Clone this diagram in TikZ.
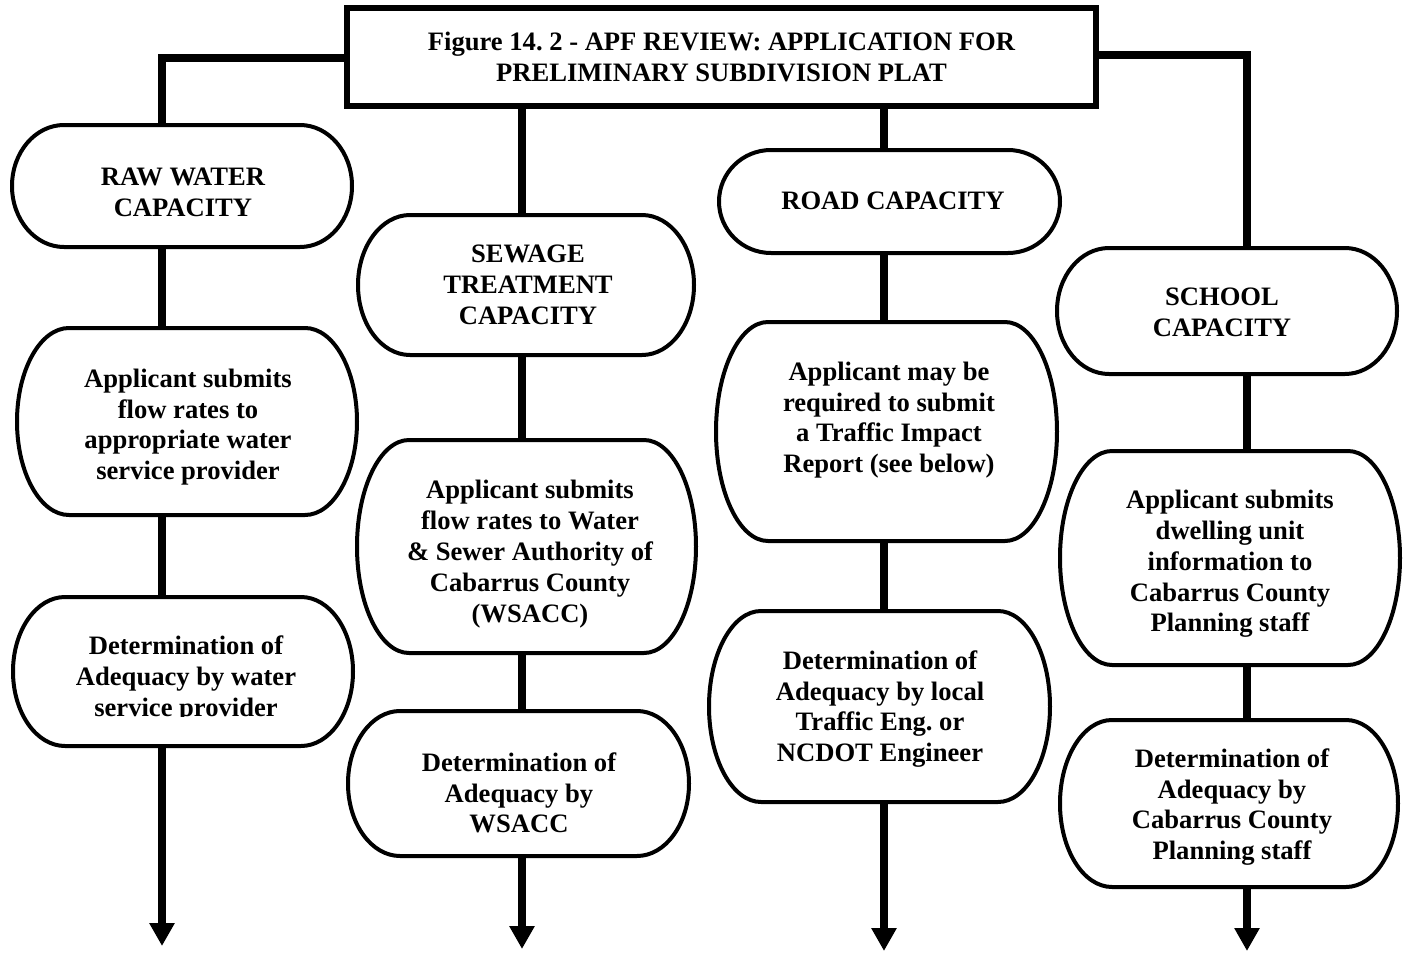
\documentclass[tikz,border=0pt]{standalone}
\usepackage{fontspec}
\setmainfont{Liberation Serif}
\usetikzlibrary{arrows.meta}
\frenchspacing
\tikzset{
  conn/.style={line width=3.8pt},
  arr/.style={line width=3.8pt, -{Triangle[length=11.5pt,width=12pt]}},
  boxline/.style={line width=2pt, line join=round},
  shapebox/.style={rectangle, inner sep=0pt, outer sep=0pt, draw=none},
  boxtext/.style={font=\fontsize{13.3}{15.4}\selectfont\bfseries, align=center, inner sep=0pt},
  titlebox/.style={draw, line width=2.6pt, rectangle, minimum width=374.5pt, minimum height=49pt,
    inner sep=0pt, font=\fontsize{13.3}{15.2}\selectfont\bfseries, align=center}
}
\newcommand\mycapsule[5]{%
  \pgfmathsetmacro\cw{(#4-#2)*0.5}%
  \pgfmathsetmacro\ch{(#5-#3)*0.5}%
  \pgfmathsetmacro\cx{(#2+#4)/2}%
  \pgfmathsetmacro\cy{(#3+#5)/2}%
  \pgfmathsetmacro\ry{(#5-#3)*0.5}%
  \pgfmathsetmacro\ryp{(#5-#3)*0.25}%
  \node[shapebox, minimum width=\cw pt, minimum height=\ch pt] (#1) at (\cx,\cy) {};
  \draw[boxline] (#2+52,#3) -- (#4-52,#3)
    arc[start angle=90,end angle=0,x radius=26pt,y radius=\ryp pt]
    arc[start angle=0,end angle=-90,x radius=26pt,y radius=\ryp pt]
    -- (#2+52,#5)
    arc[start angle=270,end angle=180,x radius=26pt,y radius=\ryp pt]
    arc[start angle=180,end angle=90,x radius=26pt,y radius=\ryp pt]
    -- cycle;
}
\begin{document}
\begin{tikzpicture}[x=0.5pt,y=-0.5pt]
\useasboundingbox (0,0) rectangle (1410,953);

% title
\node[titlebox] (title) at (721.5,57) {Figure 14. 2 - APF REVIEW: APPLICATION FOR\\PRELIMINARY SUBDIVISION PLAT};

% column x positions
\coordinate (c1) at (162,0);
\coordinate (c2) at (522,0);
\coordinate (c3) at (884,0);
\coordinate (c4) at (1247,0);

% boxes
\mycapsule{raw}{12}{125}{352}{247}
\mycapsule{appA}{17}{328}{357}{515}
\mycapsule{detA}{13}{597}{353}{746}
\mycapsule{sew}{358}{215}{694}{355}
\mycapsule{appB}{357}{440}{696}{653}
\mycapsule{detB}{348}{711}{689}{856}
\mycapsule{road}{719}{150}{1060}{253}
\mycapsule{appC}{716}{322}{1057}{541}
\mycapsule{detC}{709}{611}{1050}{802}
\mycapsule{sch}{1057}{248}{1397}{374}
\mycapsule{appD}{1060}{451}{1400}{665}
\mycapsule{detD}{1060}{720}{1398}{887}

% texts
\node[boxtext] (raw-t) at (183,192) {RAW WATER\\CAPACITY};
\node[boxtext] (appA-t) at (188,427) {Applicant submits\\flow rates to\\appropriate water\\service provider};
\begin{scope}
\clip (0,0) rectangle (1410,716);
\node[boxtext] (detA-t) at (186,679) {Determination of\\Adequacy by water\\service provider};
\end{scope}
\node[boxtext] (sew-t) at (528,285) {SEWAGE\\TREATMENT\\CAPACITY};
\node[boxtext] (appB-t) at (530,554) {Applicant submits\\flow rates to Water\\\& Sewer Authority of\\Cabarrus County\\(WSACC)};
\node[boxtext] (detB-t) at (519,793) {Determination of\\Adequacy by\\WSACC};
\node[boxtext] (road-t) at (893,201) {ROAD CAPACITY};
\node[boxtext] (appC-t) at (889,420) {Applicant may be\\required to submit\\a Traffic Impact\\Report (see below)};
\node[boxtext] (detC-t) at (880,709) {Determination of\\Adequacy by local\\Traffic Eng. or\\NCDOT Engineer};
\node[boxtext] (sch-t) at (1222,312) {SCHOOL\\CAPACITY};
\node[boxtext] (appD-t) at (1230,564) {Applicant submits\\dwelling unit\\information to\\Cabarrus County\\Planning staff};
\node[boxtext] (detD-t) at (1232,807) {Determination of\\Adequacy by\\Cabarrus County\\Planning staff};

% end points of arrows
\coordinate (e1) at (162,946);
\coordinate (e2) at (522,949);
\coordinate (e3) at (884,951);
\coordinate (e4) at (1247,951);

% connectors from title
\draw[conn] ([yshift=-0.5pt]title.west) -| (c1 |- raw.north);
\draw[conn] (title.south -| c2) -- (c2 |- sew.north);
\draw[conn] (title.south -| c3) -- (c3 |- road.north);
\draw[conn] ([yshift=1pt]title.east) -| (c4 |- sch.north);

% column connectors
\draw[conn] (raw.south -| c1) -- (appA.north -| c1);
\draw[conn] (appA.south -| c1) -- (detA.north -| c1);
\draw[arr] (detA.south -| c1) -- (e1);
\draw[conn] (sew.south -| c2) -- (appB.north -| c2);
\draw[conn] (appB.south -| c2) -- (detB.north -| c2);
\draw[arr] (detB.south -| c2) -- (e2);
\draw[conn] (road.south -| c3) -- (appC.north -| c3);
\draw[conn] (appC.south -| c3) -- (detC.north -| c3);
\draw[arr] (detC.south -| c3) -- (e3);
\draw[conn] (sch.south -| c4) -- (appD.north -| c4);
\draw[conn] (appD.south -| c4) -- (detD.north -| c4);
\draw[arr] (detD.south -| c4) -- (e4);
\end{tikzpicture}
\end{document}
